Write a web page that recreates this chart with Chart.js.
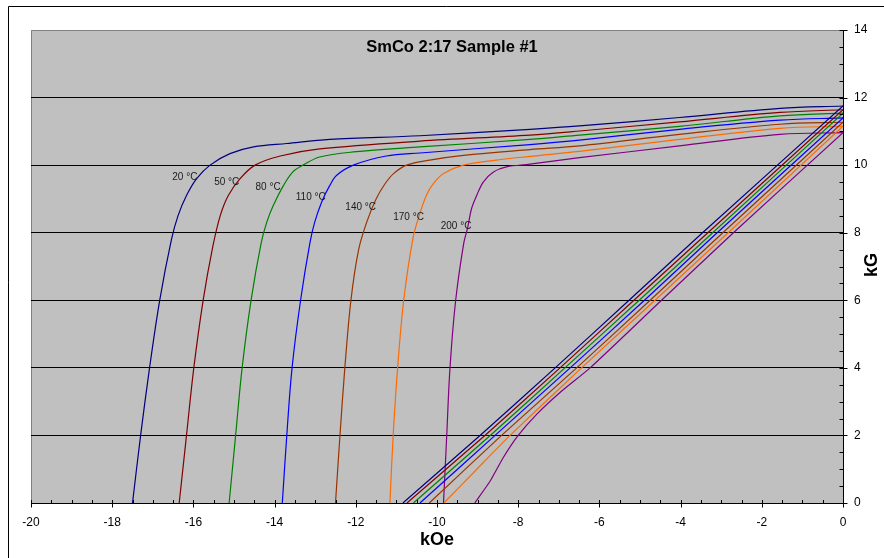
<!DOCTYPE html>
<html>
<head>
<meta charset="utf-8">
<script src="https://cdn.jsdelivr.net/npm/chart.js@4/dist/chart.umd.min.js"></script>
<style>
  html, body { margin: 0; padding: 0; background: #fff; }
  canvas { display: block; }
</style>
</head>
<body>
<canvas id="chart" width="884" height="558"></canvas>
<script>
// SmCo 2:17 demagnetization data: H in kOe, B in kG
const temperatures = ['20 °C', '50 °C', '80 °C', '110 °C', '140 °C', '170 °C', '200 °C'];

// Intrinsic curves [H, B]
const intrinsic20 = [[-17.50,0],[-17.30,2.0],[-17.08,4.0],[-16.83,6.0],[-16.54,7.8],[-16.38,8.5],[-16.17,9.1],[-15.92,9.6],[-15.59,10.0],[-15.10,10.34],[-14.52,10.54],[-13.70,10.64],[-12.64,10.76],[-10.42,10.87],[-7.71,11.06],[-6.49,11.16],[-4.03,11.41],[-1.55,11.68],[0,11.75]];
const intrinsic50 = [[-16.35,0],[-16.17,2.0],[-15.99,4.0],[-15.76,6.0],[-15.52,7.6],[-15.34,8.5],[-15.14,9.1],[-14.85,9.6],[-14.48,10.0],[-13.86,10.27],[-12.89,10.48],[-10.42,10.71],[-7.71,10.89],[-6.49,11.01],[-4.03,11.28],[-1.55,11.56],[0,11.64]];
const intrinsic80 = [[-15.12,0],[-14.96,2.0],[-14.80,4.0],[-14.58,6.0],[-14.33,7.7],[-14.19,8.32],[-14.03,8.81],[-13.78,9.40],[-13.55,9.80],[-13.30,10.0],[-12.89,10.24],[-12.06,10.39],[-10.42,10.54],[-7.71,10.76],[-6.49,10.89],[-4.03,11.15],[-1.55,11.46],[0,11.54]];
const intrinsic110 = [[-13.81,0],[-13.70,2.0],[-13.57,4.0],[-13.36,6.0],[-13.13,7.7],[-13.01,8.32],[-12.84,8.91],[-12.64,9.40],[-12.47,9.70],[-12.06,10.0],[-11.25,10.27],[-10.42,10.36],[-7.71,10.61],[-6.49,10.74],[-4.03,11.06],[-1.55,11.33],[0,11.40]];
const intrinsic140 = [[-12.50,0],[-12.39,2.0],[-12.27,4.0],[-12.12,6.0],[-11.93,7.5],[-11.72,8.35],[-11.50,9.0],[-11.28,9.45],[-11.07,9.75],[-10.75,10.0],[-10.18,10.15],[-9.35,10.29],[-7.71,10.46],[-6.49,10.57],[-4.03,10.91],[-1.55,11.21],[0,11.27]];
const intrinsic170 = [[-11.16,0],[-11.08,2.0],[-10.97,4.0],[-10.82,6.0],[-10.59,7.85],[-10.41,8.61],[-10.26,9.11],[-10.09,9.45],[-9.84,9.75],[-9.35,10.0],[-8.54,10.15],[-7.71,10.26],[-6.49,10.41],[-4.03,10.76],[-1.55,11.09],[0,11.15]];
const intrinsic200 = [[-9.84,0],[-9.76,2.0],[-9.68,4.0],[-9.54,6.0],[-9.34,7.7],[-9.25,8.12],[-9.15,8.71],[-9.02,9.11],[-8.86,9.50],[-8.61,9.80],[-8.29,9.95],[-7.71,10.03],[-6.49,10.22],[-4.03,10.57],[-1.55,10.91],[0,10.96]];

// Normal curves [H, B]
const normal20 = [[-10.84,0],[-8.94,2],[-7.09,4],[-5.27,6],[-3.46,8],[0,11.75]];
const normal50 = [[-10.74,0],[-8.82,2],[-6.97,4],[-5.15,6],[-3.33,8],[0,11.64]];
const normal80 = [[-10.58,0],[-8.69,2],[-6.85,4],[-5.02,6],[-3.21,8],[0,11.54]];
const normal110 = [[-10.42,0],[-8.57,2],[-6.72,4],[-4.89,6],[-3.10,8],[0,11.40]];
const normal140 = [[-10.19,0],[-8.41,2],[-6.56,4],[-4.75,6],[-2.96,8],[0,11.27]];
const normal170 = [[-9.83,0],[-9.02,1],[-8.20,2],[-6.44,4],[-4.63,6],[-2.83,8],[0,11.15]];
const normal200 = [[-9.07,0],[-8.69,0.65],[-8.37,1.34],[-8.00,2],[-7.54,2.63],[-6.97,3.27],[-6.23,4],[-4.47,6],[-2.70,8],[0,10.96]];

// Where each temperature tag sits, in [H, B]
const tagAnchors = [[-16.21,9.63],[-15.18,9.48],[-14.16,9.34],[-13.11,9.06],[-11.88,8.74],[-10.70,8.47],[-9.53,8.18]];

// Axis ranges and tick spacing
const xRange = [-20, 0];
const yRange = [0, 14];
const majorStep = 2;
const minorStep = 0.5;

const intrinsicSets = [intrinsic20, intrinsic50, intrinsic80, intrinsic110, intrinsic140, intrinsic170, intrinsic200];
const normalSets = [normal20, normal50, normal80, normal110, normal140, normal170, normal200];
const lineColors = ['#000080', '#800000', '#008000', '#0000ff', '#993300', '#ff6a00', '#800080'];

const FONT = '"Liberation Sans", Arial, sans-serif';

const toPoints = arr => arr.map(([x, y]) => ({ x, y }));
const curveStyle = (color, tension) => ({
  borderColor: color, borderWidth: 1.2, showLine: true, pointRadius: 0, fill: false, tension
});
const datasets = [];
temperatures.forEach((t, i) => {
  datasets.push(Object.assign({ label: t + ' intrinsic', data: toPoints(intrinsicSets[i]) }, curveStyle(lineColors[i], 0.35)));
  datasets.push(Object.assign({ label: t + ' normal', data: toPoints(normalSets[i]) }, curveStyle(lineColors[i], 0.2)));
});

const framePlugin = {
  id: 'frame',
  beforeDraw(chart) {
    const { ctx, chartArea: a } = chart;
    ctx.save();
    ctx.fillStyle = '#fff';
    ctx.fillRect(0, 0, chart.width, chart.height);
    // outer chart box
    ctx.strokeStyle = '#000';
    ctx.lineWidth = 1;
    ctx.beginPath();
    ctx.moveTo(8.5, chart.height);
    ctx.lineTo(8.5, 6.5);
    ctx.lineTo(chart.width, 6.5);
    ctx.stroke();
    // plot area
    ctx.fillStyle = '#c0c0c0';
    ctx.fillRect(a.left, a.top, a.right - a.left, a.bottom - a.top);
    ctx.strokeStyle = '#808080';
    ctx.beginPath();
    ctx.moveTo(a.left + 0.5, a.bottom);
    ctx.lineTo(a.left + 0.5, a.top + 0.5);
    ctx.lineTo(a.right, a.top + 0.5);
    ctx.stroke();
    ctx.restore();
  },
  afterDraw(chart) {
    const { ctx, chartArea: a, scales } = chart;
    const xs = scales.x, ys = scales.y;
    const ax = Math.round(a.bottom) + 0.5;
    const ay = Math.round(a.right) + 0.5;
    ctx.save();
    ctx.strokeStyle = '#000';
    ctx.lineWidth = 1;
    ctx.beginPath();
    ctx.moveTo(a.left, ax); ctx.lineTo(a.right + 1, ax);
    ctx.moveTo(ay, a.top); ctx.lineTo(ay, a.bottom + 1);
    // x ticks
    const nx = Math.round((xRange[1] - xRange[0]) / minorStep);
    for (let k = 0; k <= nx; k++) {
      const v = xRange[0] + k * minorStep;
      const px = Math.round(xs.getPixelForValue(v)) + 0.5;
      const major = Math.abs(v / majorStep - Math.round(v / majorStep)) < 1e-6;
      ctx.moveTo(px, ax - 3.5);
      ctx.lineTo(px, major ? ax + 4 : ax);
    }
    // y ticks
    const ny = Math.round((yRange[1] - yRange[0]) / minorStep);
    for (let k = 0; k <= ny; k++) {
      const v = yRange[0] + k * minorStep;
      const py = Math.round(ys.getPixelForValue(v)) + 0.5;
      const major = Math.abs(v / majorStep - Math.round(v / majorStep)) < 1e-6;
      ctx.moveTo(ay - 4, py);
      ctx.lineTo(major ? ay + 4 : ay, py);
    }
    ctx.stroke();

    // temperature tags
    ctx.fillStyle = '#1a1a1a';
    ctx.font = '10px ' + FONT;
    ctx.textAlign = 'center';
    ctx.textBaseline = 'middle';
    tagAnchors.forEach(([h, b], i) => {
      ctx.fillText(temperatures[i], xs.getPixelForValue(h), ys.getPixelForValue(b));
    });

    // title and axis titles
    ctx.fillStyle = '#000';
    ctx.font = 'bold 16.5px ' + FONT;
    ctx.fillText('SmCo 2:17 Sample #1', 452, 47);
    ctx.font = 'bold 18px ' + FONT;
    ctx.textBaseline = 'alphabetic';
    ctx.fillText('kOe', 437, 545);
    ctx.translate(877, 265);
    ctx.rotate(-Math.PI / 2);
    ctx.fillText('kG', 0, 0);
    ctx.restore();
  }
};

new Chart(document.getElementById('chart'), {
  type: 'scatter',
  data: { datasets },
  options: {
    responsive: false,
    animation: false,
    layout: { padding: { left: 31, top: 30, right: 0, bottom: 0 } },
    plugins: { legend: { display: false }, title: { display: false }, tooltip: { enabled: false } },
    elements: { point: { radius: 0 } },
    scales: {
      x: {
        type: 'linear', position: 'bottom', min: xRange[0], max: xRange[1],
        ticks: { stepSize: majorStep, color: '#000', font: { family: FONT, size: 12 }, padding: 12, maxRotation: 0, autoSkip: false },
        grid: { display: false, drawTicks: false },
        border: { display: false },
        afterFit: s => { s.height = 55; }
      },
      y: {
        type: 'linear', position: 'right', min: yRange[0], max: yRange[1],
        ticks: { stepSize: majorStep, color: '#000', font: { family: FONT, size: 12 }, padding: 11 },
        grid: {
          drawTicks: false, lineWidth: 1,
          color: c => (c.tick && c.tick.value > yRange[0] && c.tick.value < yRange[1]) ? '#000' : 'rgba(0,0,0,0)'
        },
        border: { display: false },
        afterFit: s => { s.width = 41; }
      }
    }
  },
  plugins: [framePlugin]
});
</script>
</body>
</html>
